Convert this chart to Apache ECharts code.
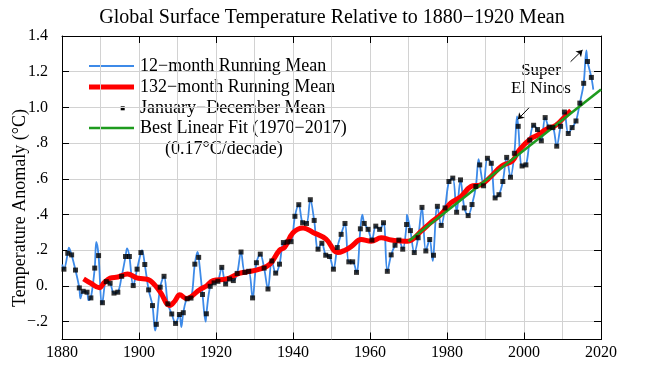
<!DOCTYPE html>
<html>
<head>
<meta charset="UTF-8">
<title>Global Surface Temperature Relative to 1880-1920 Mean</title>
<script src="https://cdn.jsdelivr.net/npm/echarts@6/dist/echarts.min.js"></script>
<style>
  body { margin: 0; background: #fff; }
  #chart { width: 650px; height: 375px; }
</style>
</head>
<body>
<div id="chart"></div>
<script>
// Jan-Dec means, 1880 .. 2017
var firstYear = 1880;
var annualMean = [
  0.094, 0.183, 0.174, 0.089, -0.011, -0.030, -0.035, -0.067, 0.100, 0.170,
  -0.094, 0.024, 0.015, -0.040, -0.035, 0.054, 0.165, 0.165, 0.002, 0.094,
  0.187, 0.120, -0.022, -0.110, -0.215, -0.007, 0.054, -0.100, -0.157, -0.210,
  -0.160, -0.150, -0.072, -0.068, 0.122, 0.160, -0.048, -0.156, -0.002, 0.017,
  0.026, 0.104, 0.011, 0.039, 0.030, 0.070, 0.190, 0.076, 0.082, -0.067,
  0.130, 0.178, 0.100, -0.017, 0.140, 0.072, 0.122, 0.243, 0.246, 0.248,
  0.390, 0.455, 0.354, 0.350, 0.483, 0.367, 0.206, 0.239, 0.172, 0.165,
  0.094, 0.215, 0.289, 0.350, 0.135, 0.135, 0.076, 0.320, 0.350, 0.317,
  0.257, 0.335, 0.317, 0.354, 0.082, 0.174, 0.228, 0.257, 0.206, 0.344,
  0.310, 0.187, 0.270, 0.440, 0.196, 0.260, 0.172, 0.446, 0.339, 0.437,
  0.585, 0.604, 0.413, 0.594, 0.437, 0.394, 0.456, 0.557, 0.678, 0.561,
  0.715, 0.687, 0.493, 0.511, 0.585, 0.720, 0.609, 0.743, 0.894, 0.672,
  0.678, 0.817, 0.900, 0.876, 0.813, 0.943, 0.890, 0.887, 0.783, 0.894,
  0.974, 0.854, 0.887, 0.924, 1.024, 1.135, 1.257, 1.168
];

// extra turning points of the 12-month running mean [year, value]
var runningPeaks = [
  [1880.05, 0.12], [1881.8, 0.215], [1884.8, -0.07], [1886.9, -0.08],
  [1888.9, 0.246], [1890.3, -0.10], [1896.9, 0.21], [1900.8, 0.20],
  [1904.2, -0.25], [1911.0, -0.23], [1915.2, 0.19], [1917.3, -0.20],
  [1958.0, 0.40], [1969.6, 0.40], [1976.3, 0.14], [1988.2, 0.71],
  [1998.2, 0.95], [2016.2, 1.32], [2018.0, 1.10]
];

// 132-month running mean [year, value]
var running132 = [
  [1885.6, 0.040], [1887.5, 0.015], [1889.7, -0.010], [1891.0, 0.020], [1892.5, 0.044],
  [1894.5, 0.050], [1897.0, 0.067], [1899.4, 0.045], [1901.0, 0.040], [1902.5, 0.035],
  [1905.4, -0.030], [1908.0, -0.110], [1909.3, -0.085], [1910.6, -0.050], [1912.3, -0.070],
  [1915.8, -0.020], [1917.5, 0.000], [1919.2, 0.030], [1922.7, 0.039], [1926.0, 0.070],
  [1928.5, 0.080], [1931.3, 0.094], [1934.0, 0.122], [1936.5, 0.200], [1937.8, 0.215],
  [1940.0, 0.298], [1942.6, 0.325], [1945.2, 0.300], [1948.6, 0.262], [1951.6, 0.187],
  [1953.5, 0.200], [1955.1, 0.220], [1957.7, 0.260], [1960.3, 0.250], [1962.9, 0.270],
  [1965.5, 0.257], [1968.0, 0.252], [1969.8, 0.250], [1973.3, 0.307], [1975.9, 0.357],
  [1978.4, 0.400], [1981.0, 0.465], [1983.6, 0.500], [1986.2, 0.557], [1988.8, 0.567],
  [1991.4, 0.613], [1994.2, 0.672], [1997.0, 0.700], [1998.7, 0.760], [2001.8, 0.826],
  [2003.5, 0.844], [2005.7, 0.876], [2008.3, 0.900], [2010.9, 0.955], [2012.2, 0.983]
];

// best linear fit 1970-2017, extended to 2020
var fitLine = [[1970, 0.25], [2020, 1.10]];

var yTickValues = [-0.2, 0, 0.2, 0.4, 0.6, 0.8, 1.0, 1.2, 1.4];
var yTickLabels = ['\u2212.2', '0.', '.2', '.4', '.6', '.8', '1.0', '1.2', '1.4'];

var serif = '"Liberation Serif", "DejaVu Serif", serif';
var blue = '#3d8ae8';
var red = '#ff0000';
var green = '#1e9b1e';
var gridColor = '#d2d2d2';

var squares = annualMean.map(function (v, i) {
  return [firstYear + i + 0.5, v];
});
var running12 = squares.concat(runningPeaks).sort(function (a, b) {
  return a[0] - b[0];
});

function yLabel(v) {
  for (var i = 0; i < yTickValues.length; i++) {
    if (Math.abs(yTickValues[i] - v) < 1e-6) return yTickLabels[i];
  }
  return '';
}

var chart = echarts.init(document.getElementById('chart'));

var option = {
  animation: false,
  backgroundColor: '#fff',
  grid: { left: 62, right: 49, top: 36, bottom: 35.5 },
  xAxis: [{
    type: 'value', min: 1880, max: 2020, interval: 20, position: 'bottom',
    axisLine: { show: true, onZero: false, lineStyle: { color: '#000', width: 1 } },
    axisTick: { show: true, inside: true, length: 7, lineStyle: { color: '#000' } },
    axisLabel: { color: '#000', fontFamily: serif, fontSize: 16, margin: 5, formatter: function (v) { return String(v); } },
    splitLine: { show: true, lineStyle: { color: gridColor, width: 1 } },
    minorTick: { show: false, splitNumber: 2 },
    minorSplitLine: { show: true, lineStyle: { color: gridColor, width: 1 } }
  }, {
    type: 'value', min: 1880, max: 2020, interval: 20, position: 'top',
    axisLine: { show: true, onZero: false, lineStyle: { color: '#000', width: 1 } },
    axisTick: { show: true, inside: true, length: 7, lineStyle: { color: '#000' } },
    axisLabel: { show: false },
    splitLine: { show: false }
  }],
  yAxis: [{
    type: 'value', min: -0.3, max: 1.4, position: 'left',
    axisLine: { show: true, onZero: false, lineStyle: { color: '#000', width: 1 } },
    axisTick: { show: true, inside: true, length: 7, customValues: yTickValues, lineStyle: { color: '#000' } },
    axisLabel: { customValues: yTickValues, formatter: yLabel, color: '#000', fontFamily: serif, fontSize: 16, margin: 14 },
    splitLine: { show: true, lineStyle: { color: gridColor, width: 1 } }
  }, {
    type: 'value', min: -0.3, max: 1.4, position: 'right',
    axisLine: { show: true, onZero: false, lineStyle: { color: '#000', width: 1 } },
    axisTick: { show: true, inside: true, length: 7, customValues: yTickValues, lineStyle: { color: '#000' } },
    axisLabel: { show: false },
    splitLine: { show: false }
  }],
  series: [{
    name: '12-month Running Mean', type: 'line', data: running12,
    smooth: 0.35, showSymbol: false, z: 2,
    lineStyle: { color: blue, width: 1.8 }
  }, {
    name: '132-month Running Mean', type: 'line', data: running132,
    smooth: 0.4, showSymbol: false, z: 3,
    lineStyle: { color: red, width: 5 }
  }, {
    name: 'Best Linear Fit', type: 'line', data: fitLine,
    showSymbol: false, z: 4,
    lineStyle: { color: green, width: 2.6 }
  }, {
    name: 'January-December Mean', type: 'scatter', data: squares,
    symbol: 'rect', symbolSize: 5, z: 5,
    itemStyle: { color: '#000' },
    markLine: {
      silent: true, symbol: ['none', 'arrow'], symbolSize: 6,
      label: { show: false },
      lineStyle: { color: '#000', width: 1, type: 'solid' },
      data: [
        [{ coord: [2001.3, 0.998] }, { coord: [1998.4, 0.933] }],
        [{ coord: [2012.1, 1.256] }, { coord: [2015.2, 1.321] }]
      ]
    }
  }],
  graphic: [
    { type: 'text', x: 332, y: 18, style: { text: 'Global Surface Temperature Relative to 1880\u22121920 Mean', font: '20px ' + serif, fill: '#000', textAlign: 'center', textVerticalAlign: 'middle' } },
    { type: 'text', x: 20, y: 208, rotation: Math.PI / 2, style: { text: 'Temperature Anomaly (\u00b0C)', font: '18px ' + serif, fill: '#000', textAlign: 'center', textVerticalAlign: 'middle' } },
    { type: 'text', x: 541, y: 80, style: { text: 'Super\nEl Ninos', font: '17px ' + serif, lineHeight: 18, fill: '#000', textAlign: 'center', textVerticalAlign: 'middle' } },

    { type: 'line', shape: { x1: 89, y1: 66, x2: 134, y2: 66 }, style: { stroke: blue, lineWidth: 2 } },
    { type: 'text', x: 140, y: 66, style: { text: '12\u2212month Running Mean', font: '18px ' + serif, fill: '#000', textVerticalAlign: 'middle' } },
    { type: 'line', shape: { x1: 89, y1: 87, x2: 134, y2: 87 }, style: { stroke: red, lineWidth: 5 } },
    { type: 'text', x: 140, y: 87, style: { text: '132\u2212month Running Mean', font: '18px ' + serif, fill: '#000', textVerticalAlign: 'middle' } },
    { type: 'rect', shape: { x: 120.7, y: 106.3, width: 4, height: 4 }, style: { fill: '#000' } },
    { type: 'text', x: 140, y: 108, style: { text: 'January\u2212December Mean', font: '18px ' + serif, fill: '#000', textVerticalAlign: 'middle' } },
    { type: 'line', shape: { x1: 89, y1: 128, x2: 134, y2: 128 }, style: { stroke: green, lineWidth: 2.6 } },
    { type: 'text', x: 140, y: 128, style: { text: 'Best Linear Fit (1970\u22122017)', font: '18px ' + serif, fill: '#000', textVerticalAlign: 'middle' } },
    { type: 'text', x: 165, y: 149, style: { text: '(0.17\u00b0C/decade)', font: '18px ' + serif, fill: '#000', textVerticalAlign: 'middle' } }
  ]
};

chart.setOption(option);
</script>
</body>
</html>
